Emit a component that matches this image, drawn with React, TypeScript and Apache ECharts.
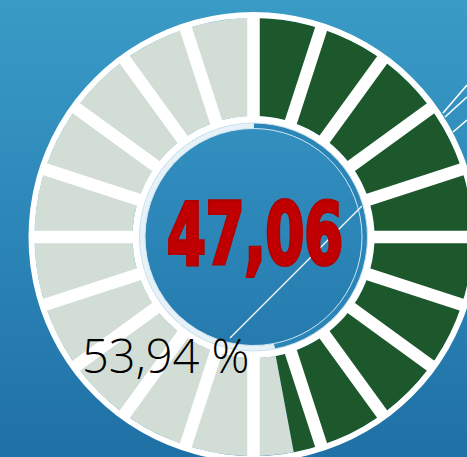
import React, { useEffect, useRef } from "react";
import * as echarts from "echarts";

const categories = ["Cumplido", "Restante"];
const values = [47.06, 52.94];
const segmentCount = 20;
const centerLabel = "47,06";
const sideLabel = "53,94 %";

const W = 467;
const H = 457;
const CX = 253.5;
const CY = 237;

export default function App() {
  const ref = useRef<HTMLDivElement>(null);
  useEffect(() => {
    if (!ref.current) return;
    const chart = echarts.init(ref.current, null, { renderer: "svg", width: W, height: H });
    const data = categories.map((c, i) => ({ name: c, value: values[i] }));
    const pieBase = {
      type: "pie",
      center: [CX, CY],
      startAngle: 90,
      clockwise: true,
      silent: true,
      label: { show: false },
      labelLine: { show: false },
      emphasis: { disabled: true },
    };
    chart.setOption({
      animation: false,
      polar: { center: [CX, CY], radius: [117, 222] },
      angleAxis: {
        type: "value",
        min: 0,
        max: segmentCount,
        interval: 1,
        startAngle: 90,
        clockwise: true,
        z: 3,
        axisLine: { show: false },
        axisTick: { show: false },
        axisLabel: { show: false },
        splitLine: { show: true, lineStyle: { color: "#ffffff", width: 12.5 } },
      },
      radiusAxis: {
        type: "value",
        min: 0,
        max: 1,
        axisLine: { show: false },
        axisTick: { show: false },
        axisLabel: { show: false },
        splitLine: { show: false },
      },
      series: [
        {
          ...pieBase,
          name: "valor",
          radius: [121, 219],
          z: 2,
          data,
          itemStyle: {
            color: (p: any) => (p.dataIndex === 0 ? "#1c582b" : "#d2ddd5"),
          },
        },
        {
          ...pieBase,
          name: "borde",
          radius: [219, 225],
          z: 4,
          data: [{ name: "borde", value: 1 }],
          itemStyle: { color: "#ffffff" },
        },
        {
          ...pieBase,
          name: "interior",
          radius: [114, 121],
          z: 4,
          data: [{ name: "interior", value: 1 }],
          itemStyle: { color: "#ffffff" },
        },
        {
          ...pieBase,
          name: "anillo",
          radius: [108.5, 114],
          z: 4,
          data,
          itemStyle: {
            color: (p: any) => (p.dataIndex === 0 ? "#2b86b8" : "#e6f1f8"),
            borderColor: "#d2e6f2",
            borderWidth: 1,
          },
        },
      ],
      graphic: [
        {
          type: "line",
          z: 5,
          shape: { x1: 230, y1: 338, x2: 362, y2: 206 },
          style: { stroke: "#ffffff", lineWidth: 1.3 },
        },
        {
          type: "line",
          z: 5,
          shape: { x1: 443, y1: 113, x2: 467, y2: 85 },
          style: { stroke: "#ffffff", lineWidth: 1.6 },
        },
        {
          type: "line",
          z: 5,
          shape: { x1: 445, y1: 117, x2: 467, y2: 97 },
          style: { stroke: "#ffffff", lineWidth: 1.6 },
        },
        {
          type: "line",
          z: 5,
          shape: { x1: 453, y1: 132, x2: 467, y2: 120 },
          style: { stroke: "#ffffff", lineWidth: 1.6 },
        },
        {
          type: "text",
          z: 6,
          x: 255,
          y: 234,
          scaleX: 0.72,
          style: {
            text: centerLabel,
            fontFamily: '"Liberation Sans Narrow", "DejaVu Sans Condensed", sans-serif',
            fontWeight: "bold",
            fontSize: 86,
            fill: "#c00000",
            stroke: "#b00000",
            lineWidth: 4,
            align: "center",
            verticalAlign: "middle",
            textAlign: "center",
            textVerticalAlign: "middle",
          },
        },
        {
          type: "text",
          z: 6,
          x: 82,
          y: 355,
          style: {
            text: sideLabel,
            fontFamily: '"Open Sans", Lato, sans-serif',
            fontWeight: 300,
            fontSize: 47,
            fill: "#000000",
            align: "left",
            verticalAlign: "middle",
            textAlign: "left",
            textVerticalAlign: "middle",
          },
        },
      ],
    });
    return () => chart.dispose();
  }, []);
  return (
    <div
      ref={ref}
      style={{
        position: "fixed",
        left: 0,
        top: 0,
        width: W,
        height: H,
        background: "linear-gradient(180deg, #3a9bc6 0%, #2c86b8 50%, #1f70a5 100%)",
      }}
    />
  );
}
